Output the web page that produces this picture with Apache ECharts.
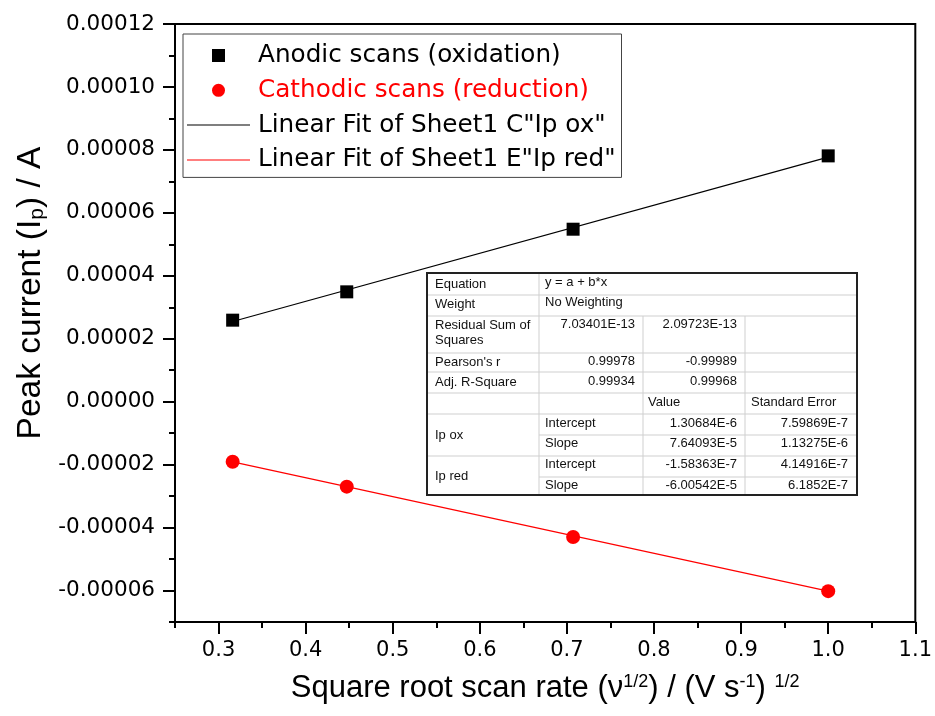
<!DOCTYPE html>
<html>
<head>
<meta charset="utf-8">
<script src="https://cdn.jsdelivr.net/npm/echarts@6/dist/echarts.min.js"></script>
<style>
html,body{margin:0;padding:0;background:#fff;}
#chart{width:935px;height:716px;}
</style>
</head>
<body>
<div id="chart"></div>
<script>
// ---- data ----
const sqrtScanRate = [0.3162, 0.4472, 0.7071, 1.0];
const ipOx = [2.59e-5, 3.49e-5, 5.48e-5, 7.81e-5];
const ipRed = [-1.91e-5, -2.70e-5, -4.30e-5, -6.02e-5];
const fitX = [0.3162, 1.0];
const fitOxY = [2.547e-5, 7.772e-5];
const fitRedY = [-1.915e-5, -6.021e-5];

const xMajorTicks = [0.3, 0.4, 0.5, 0.6, 0.7, 0.8, 0.9, 1.0, 1.1];
const xMinorTicks = [0.25, 0.35, 0.45, 0.55, 0.65, 0.75, 0.85, 0.95, 1.05];
const yMajorTicks = [-0.00006, -0.00004, -0.00002, 0, 0.00002, 0.00004, 0.00006, 0.00008, 0.00010, 0.00012];
const yMinorTicks = [-0.00007, -0.00005, -0.00003, -0.00001, 0.00001, 0.00003, 0.00005, 0.00007, 0.00009, 0.00011];

const seriesNames = ['Anodic scans (oxidation)', 'Cathodic scans (reduction)',
  'Linear Fit of Sheet1 C"Ip ox"', 'Linear Fit of Sheet1 E"Ip red"'];

// fit result table text
const tblHead = [['Equation', 'y = a + b*x'], ['Weight', 'No Weighting']];
const tblStats = [
  ['Residual Sum of', 'Squares', '7.03401E-13', '2.09723E-13'],
  ["Pearson's r", '', '0.99978', '-0.99989'],
  ['Adj. R-Square', '', '0.99934', '0.99968']
];
const tblColHead = ['Value', 'Standard Error'];
const tblParams = [
  ['Ip ox', 'Intercept', '1.30684E-6', '7.59869E-7'],
  ['', 'Slope', '7.64093E-5', '1.13275E-6'],
  ['Ip red', 'Intercept', '-1.58363E-7', '4.14916E-7'],
  ['', 'Slope', '-6.00542E-5', '6.1852E-7']
];

const zip = (xs, ys) => xs.map((x, i) => [x, ys[i]]);

// ---- table graphic (layout only) ----
const TX = [427, 539, 643, 745, 857];
const TY = [273, 295, 316, 353, 372, 393, 414, 435, 456, 477, 495];
const FONT = '13px "Liberation Sans", Arial, sans-serif';
const g = [];
g.push({type: 'rect', z: 100, shape: {x: TX[0], y: TY[0], width: TX[4] - TX[0], height: TY[10] - TY[0]},
  style: {fill: '#fff', stroke: 'none'}});
function hl(x1, x2, y) { g.push({type: 'line', z: 101, shape: {x1, y1: y, x2, y2: y}, style: {stroke: '#cfcfcf', lineWidth: 1}}); }
function vl(x, y1, y2) { g.push({type: 'line', z: 101, shape: {x1: x, y1, x2: x, y2}, style: {stroke: '#cfcfcf', lineWidth: 1}}); }
[1, 2, 3, 4, 5, 6, 8].forEach(i => hl(TX[0], TX[4], TY[i]));
[7, 9].forEach(i => hl(TX[1], TX[4], TY[i]));
vl(TX[1], TY[0], TY[10]);
vl(TX[2], TY[2], TY[10]);
vl(TX[3], TY[2], TY[10]);
g.push({type: 'rect', z: 102, shape: {x: TX[0], y: TY[0], width: TX[4] - TX[0], height: TY[10] - TY[0]},
  style: {fill: 'none', stroke: '#222', lineWidth: 2}});
function txt(s, x, y, align) {
  if (!s) return;
  g.push({type: 'text', z: 103, style: {text: s, x, y, font: FONT, fill: '#111', align: align || 'left', verticalAlign: 'middle'}});
}
txt(tblHead[0][0], 435, 284); txt(tblHead[0][1], 545, 282);
txt(tblHead[1][0], 435, 304); txt(tblHead[1][1], 545, 302);
const statY = [325, 362, 382];
tblStats.forEach((r, i) => {
  txt(r[0], 435, statY[i]);
  if (r[1]) txt(r[1], 435, statY[i] + 15);
  txt(r[2], 635, statY[i] - 1, 'right');
  txt(r[3], 737, statY[i] - 1, 'right');
});
txt(tblColHead[0], 648, 402); txt(tblColHead[1], 751, 402);
const parY = [423, 443, 464, 485];
const grpY = [435, 435, 476, 476];
tblParams.forEach((r, i) => {
  if (r[0]) txt(r[0], 435, grpY[i]);
  txt(r[1], 545, parY[i]);
  txt(r[2], 737, parY[i], 'right');
  txt(r[3], 848, parY[i], 'right');
});

const TICKFONT = '"DejaVu Sans", sans-serif';
const TITLEFONT = '"Liberation Sans", Arial, sans-serif';
const SQUARE_ICON = 'path://M0,0L10,0L10,10L0,10Z';
const LINE_ICON = 'path://M0,0L63,0L63,1L0,1Z';

const chart = echarts.init(document.getElementById('chart'), null, {renderer: 'canvas'});
chart.setOption({
  animation: false,
  backgroundColor: '#fff',
  grid: {left: 175, right: 18, top: 24, bottom: 94, show: true, borderColor: '#000', borderWidth: 2, backgroundColor: 'transparent'},
  legend: {
    orient: 'vertical', left: 183, top: 34,
    padding: [9, 6, 5, 4], itemGap: 9.8, itemWidth: 63, itemHeight: 13,
    borderColor: '#444', borderWidth: 1, backgroundColor: '#fff', borderRadius: 0,
    selectedMode: false, symbolKeepAspect: true,
    textStyle: {fontFamily: TICKFONT, fontSize: 24.7, color: '#000', padding: [0, 0, 0, 3]},
    data: [
      {name: seriesNames[0], icon: SQUARE_ICON},
      {name: seriesNames[1], icon: 'circle', textStyle: {color: '#ff0000', padding: [0, 0, 0, 3]}},
      {name: seriesNames[2], icon: LINE_ICON},
      {name: seriesNames[3], icon: LINE_ICON}
    ]
  },
  xAxis: [{
    type: 'value', min: 0.25, max: 1.1, position: 'bottom',
    axisLine: {show: true, onZero: false, lineStyle: {color: '#000', width: 2}},
    axisTick: {show: true, customValues: xMajorTicks, length: 12, lineStyle: {color: '#000', width: 2}},
    axisLabel: {customValues: xMajorTicks, formatter: v => v.toFixed(1), fontFamily: TICKFONT, fontSize: 21, color: '#000', margin: 18},
    splitLine: {show: false},
    name: 'Square root scan rate (ν{sup|1/2}) / (V s{sup|-1}) {sup|1/2}',
    nameLocation: 'middle', nameGap: 51,
    nameTextStyle: {fontFamily: TITLEFONT, fontSize: 31, color: '#000',
      rich: {sup: {fontFamily: TITLEFONT, fontSize: 18, color: '#000', verticalAlign: 'top', lineHeight: 18}}}
  }, {
    type: 'value', min: 0.25, max: 1.1, position: 'bottom',
    axisLine: {show: false, onZero: false},
    axisTick: {show: true, customValues: xMinorTicks, length: 6, lineStyle: {color: '#000', width: 2}},
    axisLabel: {show: false}, splitLine: {show: false}
  }],
  yAxis: [{
    type: 'value', min: -0.00007, max: 0.00012, position: 'left',
    axisLine: {show: true, onZero: false, lineStyle: {color: '#000', width: 2}},
    axisTick: {show: true, customValues: yMajorTicks, length: 12, lineStyle: {color: '#000', width: 2}},
    axisLabel: {customValues: yMajorTicks, formatter: v => v.toFixed(5), fontFamily: TICKFONT, fontSize: 21.5, color: '#000', margin: 20},
    splitLine: {show: false},
    name: 'Peak current (I{sub|p}) / A',
    nameLocation: 'middle', nameGap: 127,
    nameTextStyle: {fontFamily: TITLEFONT, fontSize: 33.5, color: '#000', padding: [0, 0, 0, 60],
      rich: {sub: {fontFamily: TITLEFONT, fontSize: 21, color: '#000', verticalAlign: 'bottom', lineHeight: 19}}}
  }, {
    type: 'value', min: -0.00007, max: 0.00012, position: 'left',
    axisLine: {show: false, onZero: false},
    axisTick: {show: true, customValues: yMinorTicks, length: 6, lineStyle: {color: '#000', width: 2}},
    axisLabel: {show: false}, splitLine: {show: false}
  }],
  series: [
    {name: seriesNames[2], type: 'line', data: zip(fitX, fitOxY), symbol: 'none', lineStyle: {color: '#000', width: 1.2}, itemStyle: {color: '#000'}, z: 2},
    {name: seriesNames[3], type: 'line', data: zip(fitX, fitRedY), symbol: 'none', lineStyle: {color: '#ff0000', width: 1.2}, itemStyle: {color: '#ff0000'}, z: 2},
    {name: seriesNames[0], type: 'scatter', data: zip(sqrtScanRate, ipOx), symbol: 'rect', symbolSize: 13, itemStyle: {color: '#000', opacity: 1}, z: 3},
    {name: seriesNames[1], type: 'scatter', data: zip(sqrtScanRate, ipRed), symbol: 'circle', symbolSize: 14, itemStyle: {color: '#ff0000', opacity: 1}, z: 3}
  ],
  graphic: g
});
</script>
</body>
</html>
